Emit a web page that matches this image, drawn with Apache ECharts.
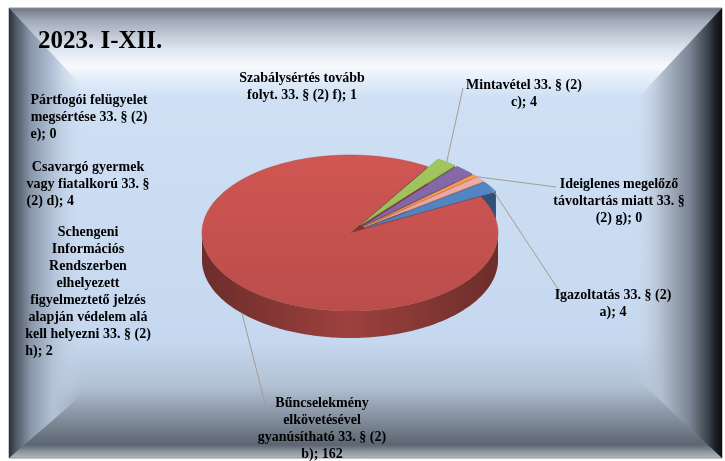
<!DOCTYPE html>
<html lang="hu">
<head>
<meta charset="UTF-8">
<title>2023. I-XII.</title>
<style>
  html, body { margin: 0; padding: 0; background: #fff; }
  #main { width: 725px; height: 461px; }
</style>
</head>
<body>
<div id="main"></div>
<script src="https://cdn.jsdelivr.net/npm/echarts@6/dist/echarts.min.js"></script>
<script>
// adatok, Excel sorrendben (a ... h)
var categories = [
  'Igazoltatás 33. § (2) a)',
  'Bűncselekmény elkövetésével gyanúsítható 33. § (2) b)',
  'Mintavétel 33. § (2) c)',
  'Csavargó gyermek vagy fiatalkorú 33. § (2) d)',
  'Pártfogói felügyelet megsértése 33. § (2) e)',
  'Szabálysértés tovább folyt. 33. § (2) f)',
  'Ideiglenes megelőző távoltartás miatt 33. § (2) g)',
  'Schengeni Információs Rendszerben elhelyezett figyelmeztető jelzés alapján védelem alá kell helyezni 33. § (2) h)'
];
var values = [4, 162, 4, 4, 0, 1, 0, 2];
var exploded = [true, false, true, true, true, true, true, true];
var colors = ['#4f81bd', '#c4514e', '#9bbb59', '#8064a2', '#4bacc6', '#f79646', '#2c4d75', '#e2a3a1'];

// címkék sortörése (az érték a végére kerül)
var labelWrap = [
  ['Igazoltatás 33. § (2)', 'a);'],
  ['Bűncselekmény', 'elkövetésével', 'gyanúsítható 33. § (2)', 'b);'],
  ['Mintavétel 33. § (2)', 'c);'],
  ['Csavargó gyermek', 'vagy fiatalkorú 33. §', '(2) d);'],
  ['Pártfogói felügyelet', 'megsértése 33. § (2)', 'e);'],
  ['Szabálysértés tovább', 'folyt. 33. § (2) f);'],
  ['Ideiglenes megelőző', 'távoltartás miatt 33. §', '(2) g);'],
  ['Schengeni', 'Információs', 'Rendszerben', 'elhelyezett', 'figyelmeztető jelzés', 'alapján védelem alá', 'kell helyezni 33. § (2)', 'h);']
];
// címke helye: középpont x, felső y, utolsó sor balra zárva?
var labelPos = [
  [613, 287, false], [322, 395, false], [524, 77, false], [88, 159, true],
  [89, 92, true], [302, 70, false], [619, 176, false], [88, 224, true]
];
// vezetővonal vége a címkénél
var leaderEnd = [
  [[562, 295]], [[266, 407], [274, 409]], [[463, 88]], null, null, null, [[556, 187]], null
];

var cx = 350, cy = 233, rx = 148, ry = 78, depth = 27, explodeR = 0.12, startAngle = 36;
var RAD = Math.PI / 180;

var total = values.reduce(function (s, v) { return s + v; }, 0);
var slices = [];
var acc = startAngle;
values.forEach(function (v, i) {
  var span = v / total * 360;
  var m = acc - span / 2;
  var ex = exploded[i] ? explodeR : 0;
  slices.push({
    t1: acc, t0: acc - span, mid: m,
    ox: ex * rx * Math.cos(m * RAD), oy: -ex * ry * Math.sin(m * RAD)
  });
  acc -= span;
});

// rajzolási sorrend: hátulról előre
var order = values.map(function (v, i) { return i; }).filter(function (i) { return values[i] > 0; });
order.sort(function (a, b) {
  return Math.sin(slices[b].mid * RAD) - Math.sin(slices[a].mid * RAD);
});

function shade(hex, f) {
  var n = parseInt(hex.slice(1), 16);
  var r = (n >> 16) & 255, g = (n >> 8) & 255, b = n & 255;
  var c = function (x) { return Math.min(255, Math.round(x * f)); };
  return 'rgb(' + c(r) + ',' + c(g) + ',' + c(b) + ')';
}

function pt(s, t, dz) {
  return [cx + s.ox + rx * Math.cos(t * RAD), cy + s.oy - ry * Math.sin(t * RAD) + dz];
}

function arc(s, a, b, dz) {
  var pts = [], n = Math.max(2, Math.ceil(Math.abs(b - a)));
  for (var k = 0; k <= n; k++) pts.push(pt(s, a + (b - a) * k / n, dz));
  return pts;
}

// oldalfalak
function renderWalls(params, api) {
  var i = order[params.dataIndex];
  var s = slices[i], col = colors[i];
  var c0 = [cx + s.ox, cy + s.oy], c1 = [cx + s.ox, cy + s.oy + depth];
  var children = [];
  var wallFill = {
    type: 'linear', x: cx - rx, y: 0, x2: cx + rx, y2: 0, global: true,
    colorStops: [
      { offset: 0, color: shade(col, 0.55) },
      { offset: 0.5, color: shade(col, 0.8) },
      { offset: 1, color: shade(col, 0.55) }
    ]
  };
  if (Math.cos(s.t0 * RAD) > 0) {
    children.push({ type: 'polygon', shape: { points: [c0, pt(s, s.t0, 0), pt(s, s.t0, depth), c1] },
      style: { fill: shade(col, 0.62) } });
  }
  if (Math.cos(s.t1 * RAD) < 0) {
    children.push({ type: 'polygon', shape: { points: [c0, pt(s, s.t1, 0), pt(s, s.t1, depth), c1] },
      style: { fill: shade(col, 0.62) } });
  }
  var run = null;
  var steps = Math.max(2, Math.ceil(s.t1 - s.t0));
  for (var k = 0; k <= steps + 1; k++) {
    var t = s.t0 + (s.t1 - s.t0) * Math.min(k, steps) / steps;
    var front = k <= steps && Math.sin(t * RAD) < 0;
    if (front) {
      if (!run) run = [t, t];
      run[1] = t;
    } else if (run) {
      var top = arc(s, run[0], run[1], 0), bot = arc(s, run[1], run[0], depth);
      children.push({ type: 'polygon', shape: { points: top.concat(bot) }, style: { fill: wallFill } });
      run = null;
    }
  }
  return { type: 'group', children: children };
}

// fedőlapok
function renderTops(params, api) {
  var i = order[params.dataIndex];
  var s = slices[i], col = colors[i];
  var c0 = [cx + s.ox, cy + s.oy];
  return {
    type: 'polygon', shape: { points: [c0].concat(arc(s, s.t0, s.t1, 0)) },
    style: {
      fill: {
        type: 'linear', x: 0, y: cy - ry, x2: 0, y2: cy + ry, global: true,
        colorStops: [{ offset: 0, color: shade(col, 1.06) }, { offset: 1, color: shade(col, 0.95) }]
      },
      stroke: shade(col, 0.9), lineWidth: 0.5
    }
  };
}

var serif = '"Liberation Serif", "Times New Roman", serif';
var labelFont = 'bold 14px ' + serif;
var graphics = [];

// keret háttér
graphics.push({
  type: 'rect', z: -10, shape: { x: 9, y: 8, width: 713, height: 450 },
  style: {
    fill: {
      type: 'linear', x: 0, y: 0, x2: 0, y2: 1,
      colorStops: [
        { offset: 0.0, color: '#6c7480' }, { offset: 0.03, color: '#a3adba' },
        { offset: 0.09, color: '#dbe4ee' }, { offset: 0.13, color: '#f7f9fc' },
        { offset: 0.16, color: '#e3edf9' }, { offset: 0.2, color: '#cfe0f5' },
        { offset: 0.74, color: '#c6d8ef' }, { offset: 0.84, color: '#b2c1d4' },
        { offset: 0.88, color: '#98a5b6' }, { offset: 0.93, color: '#77828f' },
        { offset: 0.97, color: '#5c6572' }, { offset: 0.985, color: '#8d959f' },
        { offset: 1, color: '#b4bac0' }
      ]
    },
    stroke: '#8d939a', lineWidth: 1
  }
});
graphics.push({
  type: 'polygon', z: -9, shape: { points: [[9, 8], [82, 86], [82, 395], [9, 458]] },
  style: {
    fill: {
      type: 'linear', x: 9, y: 0, x2: 82, y2: 0, global: true,
      colorStops: [
        { offset: 0, color: '#2b3038' }, { offset: 0.1, color: '#515a66' },
        { offset: 0.3, color: '#8a97aa' }, { offset: 0.6, color: '#b3c2d7' },
        { offset: 1, color: 'rgba(200,214,234,0)' }
      ]
    }
  }
});
graphics.push({
  type: 'polygon', z: -9, shape: { points: [[722, 8], [636, 100], [636, 378], [722, 458]] },
  style: {
    fill: {
      type: 'linear', x: 636, y: 0, x2: 722, y2: 0, global: true,
      colorStops: [
        { offset: 0, color: 'rgba(200,212,228,0)' }, { offset: 0.3, color: '#b2bece' },
        { offset: 0.62, color: '#7c8695' }, { offset: 0.84, color: '#3b414a' },
        { offset: 0.93, color: '#1a1d22' }, { offset: 1, color: '#0e1013' }
      ]
    }
  }
});

graphics.push({
  type: 'text', z: 10, style: {
    text: '2023. I-XII.', x: 38, y: 42, font: 'bold 25px ' + serif, fill: '#000',
    align: 'left', verticalAlign: 'middle', textAlign: 'left', textVerticalAlign: 'middle'
  }
});

// címkék és vezetővonalak
values.forEach(function (v, i) {
  var lines = labelWrap[i].slice();
  var last = lines.length - 1;
  lines[last] = lines[last] + ' ' + v;
  var p = labelPos[i];
  var txt = lines.map(function (l, k) {
    return (k === last && p[2] ? '{l|' : '{c|') + l + '}';
  }).join('\n');
  graphics.push({
    type: 'text', z: 10, style: {
      text: txt, x: p[0], y: p[1], font: labelFont, fill: '#000', lineHeight: 17,
      align: 'center', verticalAlign: 'top', textAlign: 'center', textVerticalAlign: 'top',
      rich: {
        c: { align: 'center', font: labelFont, lineHeight: 17, fill: '#000' },
        l: { align: 'left', font: labelFont, lineHeight: 17, fill: '#000' }
      }
    }
  });
  if (leaderEnd[i]) {
    var s = slices[i];
    var front = Math.sin(s.mid * RAD) < 0;
    var start = pt(s, s.mid, front ? depth : 0);
    graphics.push({
      type: 'polyline', z: 9, shape: { points: [start].concat(leaderEnd[i]) },
      style: { stroke: '#a39d8f', lineWidth: 1, fill: null }
    });
  }
});

var sliceData = order.map(function (i) { return { name: categories[i], value: values[i] }; });

var chart = echarts.init(document.getElementById('main'));
chart.setOption({
  animation: false,
  graphic: graphics,
  series: [{
    type: 'custom',
    coordinateSystem: 'none',
    z: 2,
    renderItem: renderWalls,
    data: sliceData
  }, {
    type: 'custom',
    coordinateSystem: 'none',
    z: 3,
    renderItem: renderTops,
    data: sliceData
  }]
});
</script>
</body>
</html>
